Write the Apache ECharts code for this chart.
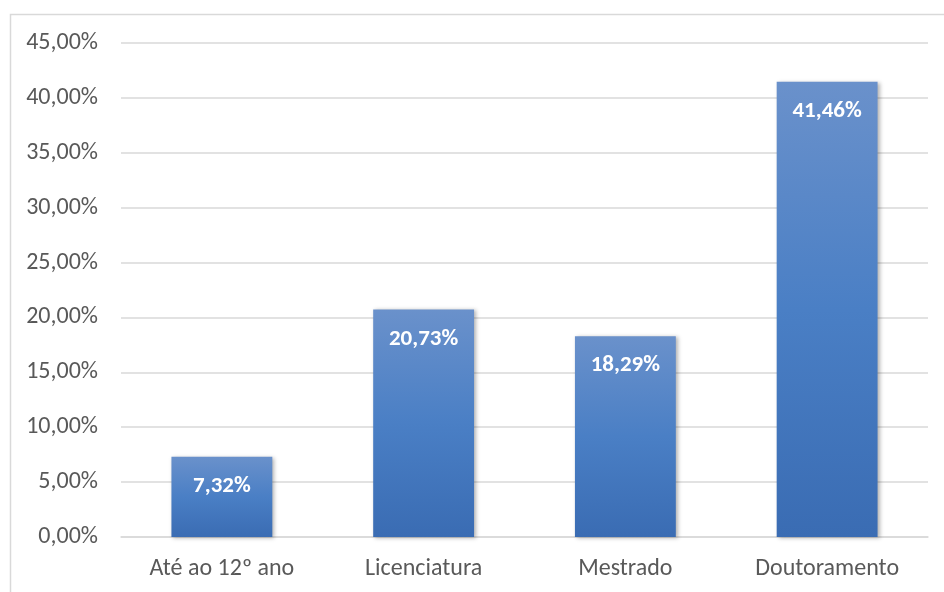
<!DOCTYPE html>
<html><head><meta charset="utf-8">
<script src="https://cdn.jsdelivr.net/npm/echarts@6/dist/echarts.min.js"></script>
<style>html,body{margin:0;padding:0;background:#fff}#c{width:944px;height:592px}</style>
</head><body><div id="c"></div>
<script>
const categories = ['Até ao 12º ano', 'Licenciatura', 'Mestrado', 'Doutoramento'];
const values = [7.32, 20.73, 18.29, 41.46];
const yMin = 0, yMax = 45, yStep = 5;

const fmt = v => v.toFixed(2).replace('.', ',') + '%';
const chart = echarts.init(document.getElementById('c'), null, {renderer: 'canvas'});
const font = 'Calibri, Carlito, "Open Sans", "Liberation Sans", sans-serif';
chart.setOption({
  animation: false,
  graphic: [{type: 'rect', shape: {x: 10.5, y: 14.5, width: 940, height: 590}, style: {fill: 'none', stroke: '#d9d9d9', lineWidth: 1.5}, z: -1}],
  grid: {left: 121, right: 16, top: 43, bottom: 55},
  xAxis: {
    type: 'category', data: categories,
    axisLine: {lineStyle: {color: '#d9d9d9', width: 1.5}},
    axisTick: {show: false},
    axisLabel: {color: '#595959', fontSize: 24, fontFamily: font, margin: 20}
  },
  yAxis: {
    type: 'value', min: yMin, max: yMax, interval: yStep,
    axisLine: {show: false}, axisTick: {show: false},
    splitLine: {lineStyle: {color: '#d9d9d9', width: 1.5}},
    axisLabel: {color: '#595959', fontSize: 24, fontFamily: font, margin: 23, formatter: fmt}
  },
  series: [{
    type: 'bar', data: values, barWidth: '50%',
    itemStyle: {
      color: new echarts.graphic.LinearGradient(0, 0, 0, 1, [
        {offset: 0, color: '#6a91cb'}, {offset: 0.5, color: '#4a7fc5'}, {offset: 1, color: '#3a6cb3'}
      ]),
      shadowColor: 'rgba(0,0,0,0.3)', shadowBlur: 4, shadowOffsetX: 2, shadowOffsetY: 1
    },
    label: {show: true, position: 'insideTop', distance: 18, color: '#fff', fontWeight: 'bold', fontSize: 23, fontFamily: font, formatter: p => fmt(p.value)}
  }]
});
</script></body></html>
